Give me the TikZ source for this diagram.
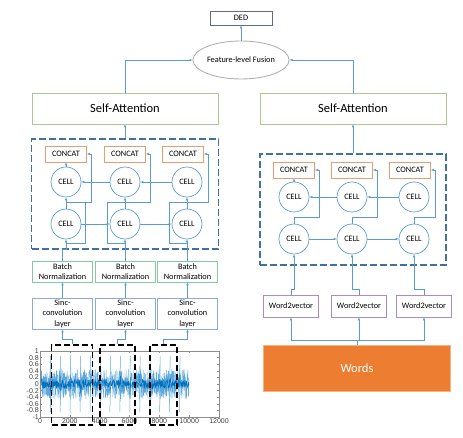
\documentclass[tikz,border=0pt]{standalone}
\usepackage{fontspec}
\setmainfont{Carlito}
\newfontfamily\plotfont{Liberation Sans}
\usetikzlibrary{shapes.geometric,arrows.meta,positioning,calc}
\definecolor{linec}{HTML}{5B9BD5}
\definecolor{grpc}{HTML}{41719C}
\definecolor{catc}{HTML}{E99C70}
\definecolor{attc}{HTML}{A9C98E}
\definecolor{bnc}{HTML}{84C9A3}
\definecolor{sincc}{HTML}{8EA9DB}
\definecolor{w2vc}{HTML}{A88BCB}
\definecolor{dedc}{HTML}{5A6A88}
\definecolor{fusc}{HTML}{B0B0B0}
\definecolor{wordc}{HTML}{ED7D31}
\definecolor{sigc}{HTML}{0072BD}
\definecolor{sigl}{HTML}{5FA8DC}
\definecolor{axc}{HTML}{8C8C8C}
\definecolor{axtext}{HTML}{404040}
\begin{document}
\begin{tikzpicture}
	[ x=1pt, y=-1pt,
	  >={Latex[length=3pt,width=2.6pt]},
	  txt/.style={font=\fontsize{8.3}{10.5}\selectfont, align=center, inner sep=0pt},
	  box/.style={draw, txt, line width=0.7pt},
	  ded/.style={box, draw=dedc, minimum width=62pt, minimum height=14pt},
	  fus/.style={ellipse, draw=fusc, line width=0.9pt, txt, minimum width=92pt, minimum height=38pt},
	  att/.style={box, draw=attc, font=\fontsize{12.5}{14}\selectfont, minimum width=186pt, minimum height=31pt},
	  grp/.style={draw=grpc, line width=1.6pt, dash pattern=on 7pt off 3pt},
	  cat/.style={box, draw=catc, minimum width=41pt, minimum height=16pt},
	  cell/.style={circle, draw=linec, line width=0.7pt, txt, minimum size=30pt},
	  bn/.style={box, draw=bnc, minimum width=60pt, minimum height=21pt},
	  sinc/.style={box, draw=sincc, minimum width=60pt, minimum height=31pt},
	  w2v/.style={box, draw=w2vc, minimum width=55pt, minimum height=22pt},
	  words/.style={fill=wordc, draw=wordc!60!white, text=white, font=\fontsize{12.5}{14}\selectfont, minimum width=187pt, minimum height=46pt},
	  win/.style={draw=black, line width=1.6pt, dash pattern=on 6pt off 3pt, minimum height=80pt},
	  wire/.style={draw=linec, line width=0.6pt},
	  tick/.style={font=\plotfont\fontsize{7}{7}\selectfont, text=axtext, inner sep=1pt},
	]
	\useasboundingbox (0,0) rectangle (463,438);

	% top
	\node[ded] (ded) at (241,18) {DED};
	\node[fus] (fus) at (241,60) {Feature-level Fusion};
	\node[att] (attL) at (125,108.5) {Self-Attention};
	\node[att] (attR) at (353,108.5) {Self-Attention};
	\draw[wire,->] (fus) -- (ded);
	\draw[wire,->] (attL.north) |- (fus.west);
	\draw[wire,->] (attR.north) |- (fus.east);

	% speech branch
	\node[grp, minimum width=187pt, minimum height=110pt] (grpL) at (125,194) {};
	\foreach \i/\x/\c in {1/66/66,2/125/125,3/187/183}{
		\node[cat] (cat\i) at (\c,154) {CONCAT};
		\node[cell] (top\i) at (\x,182) {CELL};
		\node[cell] (bot\i) at (\x,224) {CELL};
	}
	\foreach \i/\x in {1/62.5,2/125.5,3/187.5}{
		\node[bn] (bn\i) at (\x,271.5) {Batch\\Normalization};
		\node[sinc] (sinc\i) at (\x,313.5) {Sinc-\\convolution\\layer};
	}
	\draw[wire,->] (grpL.north) -- (attL.south);
	\draw[wire,->] (bot1) -- (bot2);
	\draw[wire,->] (bot2) -- (bot3);
	\draw[wire,->] (top3) -- (top2);
	\draw[wire,->] (top2) -- (top1);
	\draw[wire,->] (top1) -- (cat1);
	\foreach \i/\s in {1/19,2/-18,3/-18}{
		\draw[wire,->] (bot\i) -- (top\i);
		\draw[wire,->] ([yshift=6pt]bot\i.north) -| ([xshift=4pt]cat\i.east) -- (cat\i.east);
		\draw[wire] ([yshift=-4pt]bot\i.south) -| ([xshift=\s pt,yshift=6pt]bot\i.north) -- ([yshift=6pt]bot\i.north);
		\draw[wire,->] (bn\i.north) -- ++(0,-11) -| (bot\i.south);
		\draw[wire,->] (sinc\i) -- (bn\i);
	}

	% waveform
	\begin{scope}[shift={(40,384)}, x=14.917pt, y=33pt]
		\pgfmathsetseed{11}
		\draw[sigl, line width=0.3pt] plot[domain=0:10, samples=900]
			(\x, {(0.45+0.15*max(0,1-mod(\x,0.667)/0.15))*rand});
		\foreach \k in {0,...,14}{
			\draw[sigl, line width=0.5pt] (\k*0.667+0.02,-0.85) -- (\k*0.667+0.05,0.85);
		}
		\draw[sigc, line width=0.35pt] plot[domain=0:10, samples=500]
			(\x, {(0.15+0.2*max(0,1-mod(\x,0.667)/0.12))*rand});
		\draw[axc, line width=0.4pt] (0,-1) rectangle (12,1);
		\foreach \v in {1,0.8,0.6,0.4,0.2,0,-0.2,-0.4,-0.6,-0.8,-1}{
			\draw[axc, line width=0.4pt] (0,\v) -- ++(0.12,0);
			\draw[axc, line width=0.4pt] (12,\v) -- ++(-0.12,0);
			\node[tick, left] at (0,\v) {\v};
		}
		\foreach \k/\t in {0/0,2/2000,4/4000,6/6000,8/8000,10/10000,12/12000}{
			\draw[axc, line width=0.4pt] (\k,-1) -- ++(0,0.05);
			\draw[axc, line width=0.4pt] (\k,1) -- ++(0,-0.05);
			\node[tick, below] at (\k,-1) {\t};
		}
	\end{scope}
	\node[win, minimum width=41pt] (win1) at (72,385) {};
	\node[win, minimum width=35pt] (win2) at (117.5,385) {};
	\node[win, minimum width=27pt] (win3) at (163.5,385) {};
	\foreach \i in {1,2,3}{
		\draw[wire,->] (win\i.north) -- ++(0,-5) -| (sinc\i.south);
	}

	% text branch
	\node[grp, minimum width=186pt, minimum height=111pt] (grpR) at (353,209.5) {};
	\foreach \i/\x/\c in {1/294/294,2/352/352,3/414/410}{
		\node[cat] (rcat\i) at (\c,170) {CONCAT};
		\node[cell] (rtop\i) at (\x,197) {CELL};
		\node[cell] (rbot\i) at (\x,239) {CELL};
	}
	\foreach \i/\x in {1/291,2/359,3/424}{
		\node[w2v] (w2v\i) at (\x,306) {Word2vector};
	}
	\node[words] (words) at (357,368) {Words};
	\draw[wire,->] (grpR.north) -- (attR.south);
	\draw[wire,->] (rbot1) -- (rbot2);
	\draw[wire,->] (rbot2) -- (rbot3);
	\draw[wire,->] (rtop3) -- (rtop2);
	\draw[wire,->] (rtop2) -- (rtop1);
	\draw[wire,->] (rtop1) -- (rcat1);
	\foreach \i in {1,2,3}{
		\draw[wire,->] (rbot\i.north) -- ++(0,-6) -| ([xshift=4pt]rcat\i.east) -- (rcat\i.east);
		\draw[wire,->] (w2v\i.north) -- ++(0,-5) -| (rbot\i.south);
		\draw[wire,->] (words.north) -- ++(0,-5) -| (w2v\i.south);
	}
\end{tikzpicture}
\end{document}
